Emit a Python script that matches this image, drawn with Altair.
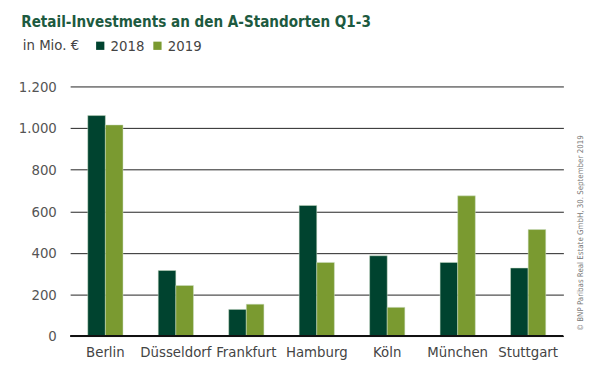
import altair as alt
import pandas as pd

cities = ["Berlin", "Düsseldorf", "Frankfurt", "Hamburg", "Köln", "München", "Stuttgart"]
v2018 = [1060, 315, 128, 628, 386, 354, 327]
v2019 = [1015, 243, 153, 354, 138, 674, 512]
years = ["2018", "2019"]
colors = ["#00432f", "#7a9a30"]
yticks = [0, 200, 400, 600, 800, 1000, 1200]

rows = []
for c, a, b in zip(cities, v2018, v2019):
    rows.append({"Stadt": c, "Jahr": "2018", "Wert": a})
    rows.append({"Stadt": c, "Jahr": "2019", "Wert": b})
df = pd.DataFrame(rows)

FONT = "Liberation Sans Narrow, DejaVu Sans Condensed, Roboto, sans-serif"

bars = alt.Chart(df).mark_bar(stroke="#cfe0c8", strokeWidth=0.5).encode(
    x=alt.X("Stadt:N", sort=cities, title=None,
            scale=alt.Scale(paddingInner=0.5, paddingOuter=0.25),
            axis=alt.Axis(labelAngle=0, labelFont=FONT, labelFontSize=15, labelColor="#444444",
                          labelPadding=9, ticks=False, domain=False)),
    xOffset=alt.XOffset("Jahr:N", sort=years),
    y=alt.Y("Wert:Q", title=None,
            scale=alt.Scale(domain=[0, 1200], nice=False),
            axis=alt.Axis(values=yticks, format=",d", labelFont=FONT, labelFontSize=15,
                          labelColor="#555555", labelPadding=14, ticks=False, domain=False,
                          grid=True, gridColor="#222222", gridWidth=1)),
    color=alt.Color("Jahr:N", sort=years, scale=alt.Scale(domain=years, range=colors),
                    legend=alt.Legend(orient="none", legendX=23, legendY=-49, direction="horizontal",
                                      title=None, symbolType="square", symbolSize=70,
                                      symbolStrokeWidth=0, labelFont=FONT, labelFontSize=15,
                                      labelColor="#444444", columnPadding=5, labelOffset=3)),
)

zero = alt.Chart(pd.DataFrame({"y": [0]})).mark_rule(color="#111111", strokeWidth=2).encode(y="y:Q")

sub = alt.Chart(pd.DataFrame({"t": ["in Mio. €"]})).mark_text(
    align="left", baseline="middle", font=FONT, fontSize=15, color="#444444"
).encode(text="t:N", x=alt.value(-48), y=alt.value(-42))

copy = alt.Chart(pd.DataFrame({"t": ["© BNP Paribas Real Estate GmbH, 30. September 2019"]})).mark_text(
    align="left", baseline="middle", angle=270, font=FONT, fontSize=8, color="#777777"
).encode(text="t:N", x=alt.value(518), y=alt.value(248))

chart = alt.layer(bars, zero, sub, copy).properties(
    width=500, height=253,
    title=alt.TitleParams("Retail-Investments an den A-Standorten Q1-3", anchor="start",
                          font=FONT, fontSize=15.3, fontWeight="bold", color="#1d5a40",
                          dx=3, offset=8),
    autosize=alt.AutoSizeParams(type="none"),
    padding={"left": 63, "top": 77, "right": 29, "bottom": 40},
).configure(
    locale={"number": {"decimal": ",", "thousands": ".", "grouping": [3], "currency": ["", " €"]}},
    view=alt.ViewConfig(stroke=None),
)

chart.save("out.html", embed_options={"renderer": "svg", "actions": False})
